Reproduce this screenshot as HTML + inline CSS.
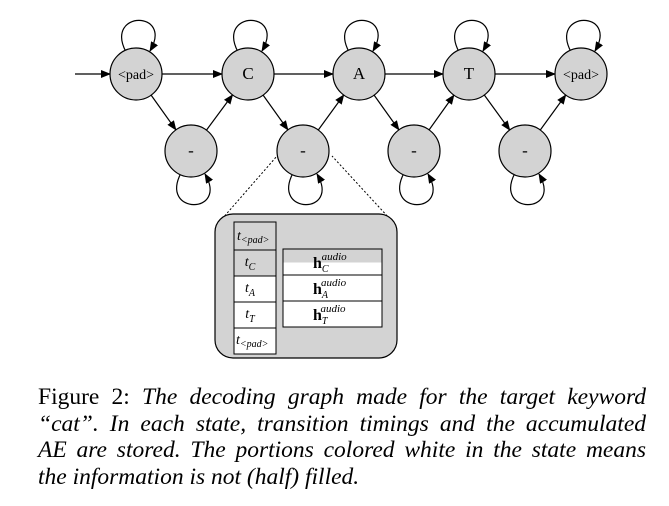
<!DOCTYPE html>
<html><head><meta charset="utf-8"><style>
body{margin:0;background:#fff;width:669px;height:506px;overflow:hidden;font-family:"Liberation Serif",serif;}
#cap{position:absolute;left:38px;top:384px;width:608px;font-size:23.5px;line-height:26.7px;}
#cap div{text-align:justify;text-align-last:justify;white-space:nowrap;}
#cap div.last{text-align-last:left;}
#cap i{font-style:italic}
</style></head><body>
<svg width="669" height="380" style="position:absolute;left:0;top:0" font-family="Liberation Serif, serif">
<defs><marker id="ar" markerWidth="10" markerHeight="8" refX="9" refY="4" orient="auto" markerUnits="userSpaceOnUse"><path d="M0,0L10,4L0,8z" fill="#000"/></marker></defs>
<g id="g" stroke="#000" stroke-width="1.2" fill="none"></g>
<g>
<line x1="222" y1="219" x2="277" y2="156" stroke="#000" stroke-dasharray="2,2"/>
<line x1="390" y1="219" x2="332" y2="156" stroke="#000" stroke-dasharray="2,2"/>
<rect x="215" y="214" width="182" height="144" rx="18" fill="#d3d3d3" stroke="#000" stroke-width="1.2"/>
<rect x="234" y="222" width="42" height="54" fill="#d3d3d3" stroke="#000"/>
<rect x="234" y="276" width="42" height="78" fill="#fff" stroke="#000"/>
<line x1="234" y1="250" x2="276" y2="250" stroke="#000"/>
<line x1="234" y1="302" x2="276" y2="302" stroke="#000"/>
<line x1="234" y1="328" x2="276" y2="328" stroke="#000"/>
<rect x="283" y="249" width="99" height="78" fill="#fff" stroke="#000"/>
<rect x="283.5" y="249.5" width="98" height="13" fill="#d3d3d3"/>
<line x1="283" y1="275" x2="382" y2="275" stroke="#000"/>
<line x1="283" y1="301" x2="382" y2="301" stroke="#000"/>
<g font-size="14" font-style="italic" text-anchor="middle">
<text x="237" y="240" text-anchor="start">t<tspan font-size="10" dy="3">&lt;pad&gt;</tspan></text>
<text x="250" y="266">t<tspan font-size="10" dy="4">C</tspan></text>
<text x="250" y="292">t<tspan font-size="10" dy="4">A</tspan></text>
<text x="250" y="318">t<tspan font-size="10" dy="4">T</tspan></text>
<text x="236" y="344" text-anchor="start">t<tspan font-size="10" dy="3">&lt;pad&gt;</tspan></text>
</g>
<g font-size="16" text-anchor="start">
<text x="313" y="268"><tspan font-weight="bold">h</tspan><tspan font-size="10" font-style="italic" dy="4">C</tspan><tspan font-size="11" font-style="italic" dx="-7" dy="-12">audio</tspan></text>
<text x="313" y="294"><tspan font-weight="bold">h</tspan><tspan font-size="10" font-style="italic" dy="4">A</tspan><tspan font-size="11" font-style="italic" dx="-7" dy="-12">audio</tspan></text>
<text x="313" y="320"><tspan font-weight="bold">h</tspan><tspan font-size="10" font-style="italic" dy="4">T</tspan><tspan font-size="11" font-style="italic" dx="-7" dy="-12">audio</tspan></text>
</g>
</g>
</svg>
<div id="cap">
<div>Figure 2: <i>The decoding graph made for the target keyword</i></div>
<div><i>“cat”. In each state, transition timings and the accumulated</i></div>
<div><i>AE are stored. The portions colored white in the state means</i></div>
<div class="last"><i>the information is not (half) filled.</i></div>
</div>
<script>
const topLabels=["<pad>","C","A","T","<pad>"];
const topX=[136,248,359,469,581];
const botX=[191,303,414,525];
const ty=74,by=151,r=26;
const g=document.getElementById('g');
const NS="http://www.w3.org/2000/svg";
function el(t,a,p){const e=document.createElementNS(NS,t);for(const k in a)e.setAttribute(k,a[k]);(p||g).appendChild(e);return e;}
function edge(x1,y1,x2,y2){const dx=x2-x1,dy=y2-y1,d=Math.hypot(dx,dy);const e=el('line',{x1:x1+dx/d*r,y1:y1+dy/d*r,x2:x2-dx/d*r,y2:y2-dy/d*r,'marker-end':'url(#ar)'});}
function loop(cx,cy,up){const s=up?-1:1;const a=cx-10,b=cx+14;const y0=cy+s*(r-4);const p=el('path',{d:`M${a},${y0} C${a-22},${y0+s*42} ${b+24},${y0+s*42} ${b},${y0+s*1}`,'marker-end':'url(#ar)'});}
const st=el('line',{x1:75,y1:ty,x2:topX[0]-r,y2:ty,'marker-end':'url(#ar)'});

for(let i=0;i<topX.length-1;i++){edge(topX[i],ty,topX[i+1],ty);edge(topX[i],ty,botX[i],by);edge(botX[i],by,topX[i+1],ty);}
topX.forEach(x=>loop(x,ty,true));botX.forEach(x=>loop(x,by,false));
function node(x,y,lab,nm){const c=el('circle',{cx:x,cy:y,r:r,fill:'#d3d3d3'});
const t=el('text',{x:x,y:y+5,'text-anchor':'middle','font-size':lab.length>1?14:17,fill:'#000',stroke:'none'});t.textContent=lab;}
topX.forEach((x,i)=>node(x,ty,topLabels[i],'state-node'));
botX.forEach(x=>node(x,by,'-','blank-node'));
</script>
</body></html>
